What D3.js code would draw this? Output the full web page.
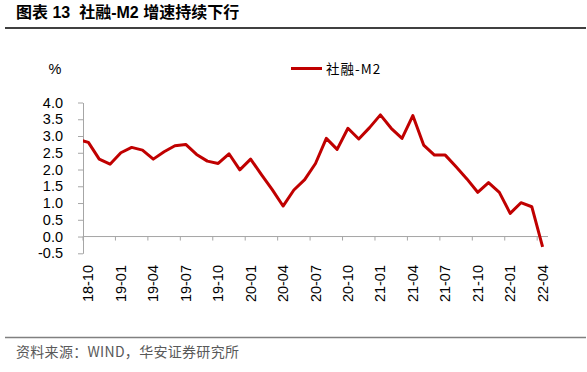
<!DOCTYPE html>
<html>
<head>
<meta charset="utf-8">
<script src="https://cdn.jsdelivr.net/npm/d3@7"></script>
<style>
  body { margin: 0; background: #fff; }
  text { font-family: "Liberation Sans", Arial, "Noto Sans CJK SC", sans-serif; white-space: pre; }
  .cjk { font-family: "Noto Sans CJK SC", sans-serif; }
</style>
</head>
<body>
<div id="chart"></div>
<script>
// months shown on the axis (18-10 .. 22-04)
var months = ["18-10","18-11","18-12",
  "19-01","19-02","19-03","19-04","19-05","19-06","19-07","19-08","19-09","19-10","19-11","19-12",
  "20-01","20-02","20-03","20-04","20-05","20-06","20-07","20-08","20-09","20-10","20-11","20-12",
  "21-01","21-02","21-03","21-04","21-05","21-06","21-07","21-08","21-09","21-10","21-11","21-12",
  "22-01","22-02","22-03","22-04"];

// 社融-M2 (%)
var spread = [2.81,2.31,2.16,
  2.50,2.66,2.58,2.31,2.53,2.71,2.75,2.45,2.25,2.18,2.47,1.99,
  2.31,1.85,1.40,0.91,1.39,1.70,2.18,2.93,2.60,3.23,2.91,3.25,
  3.63,3.23,2.93,3.61,2.73,2.43,2.43,2.08,1.72,1.32,1.61,1.32,
  0.69,1.01,0.89,-0.31];

// value of 18-09, sits left of the axis and gets clipped
var preValue = 2.9;

var yTicks = [-0.5, 0, 0.5, 1, 1.5, 2, 2.5, 3, 3.5, 4];

var width = 587, height = 372;
var plot = {left: 83, right: 548, top: 102.5, bottom: 253.3};

var svg = d3.select("#chart").append("svg")
    .attr("width", width)
    .attr("height", height);

// title + rules
svg.append("text")
    .attr("x", 16).attr("y", 18)
    .attr("font-size", 16).attr("font-weight", "bold")
    .text("图表 13  社融-M2 增速持续下行");

svg.append("line")
    .attr("x1", 5).attr("x2", 586).attr("y1", 28).attr("y2", 28)
    .attr("stroke", "#404040").attr("stroke-width", 2);

svg.append("line")
    .attr("x1", 5).attr("x2", 586).attr("y1", 337.5).attr("y2", 337.5)
    .attr("stroke", "#808080").attr("stroke-width", 1.5);

svg.append("text")
    .attr("class", "cjk")
    .attr("x", 16).attr("y", 357)
    .attr("font-size", 14).attr("fill", "#595959")
    .attr("letter-spacing", 0.3)
    .text("资料来源：WIND，华安证券研究所");

// scales: x by month index, band centred
var x = d3.scaleLinear()
    .domain([-0.5, months.length - 0.5])
    .range([plot.left, plot.right]);

var y = d3.scaleLinear()
    .domain([-0.5, 4])
    .range([plot.bottom, plot.top]);

// y axis
var yAxis = svg.append("g")
    .attr("transform", `translate(${plot.left},0)`)
    .call(d3.axisLeft(y).tickValues(yTicks)
      .tickFormat(d => d.toFixed(1))
      .tickSize(5).tickSizeOuter(0));
yAxis.select(".domain").attr("stroke", "#a6a6a6");
yAxis.selectAll(".tick line").attr("stroke", "#a6a6a6");
yAxis.selectAll(".tick text")
    .attr("x", -20)
    .attr("font-size", 14.5)
    .attr("font-family", "Liberation Sans, Arial, sans-serif")
    .attr("fill", "#000");

// x axis at zero
var xTickIdx = d3.range(0, months.length, 3);
var xAxis = svg.append("g")
    .attr("transform", `translate(0,${y(0)})`);
xAxis.append("line")
    .attr("x1", plot.left).attr("x2", plot.right)
    .attr("stroke", "#a6a6a6");
xAxis.selectAll(".tk")
    .data(xTickIdx)
    .enter()
    .append("line")
    .attr("class", "tk")
    .attr("x1", d => x(d - 0.5)).attr("x2", d => x(d - 0.5))
    .attr("y1", 0).attr("y2", 4)
    .attr("stroke", "#a6a6a6");

svg.selectAll(".xlab")
    .data(xTickIdx)
    .enter()
    .append("text")
    .attr("class", "xlab")
    .attr("transform", d => `translate(${x(d)},265) rotate(-90)`)
    .attr("text-anchor", "end")
    .attr("dy", "0.35em")
    .attr("font-size", 14.5)
    .text(d => months[d]);

// % unit
svg.append("text")
    .attr("x", 55).attr("y", 74)
    .attr("text-anchor", "middle")
    .attr("font-size", 14.5)
    .text("%");

// line, clipped to the plot area
svg.append("clipPath").attr("id", "plotClip")
    .append("rect")
    .attr("x", plot.left).attr("y", 0)
    .attr("width", plot.right - plot.left + 10).attr("height", height);

var pts = [[-1, preValue]].concat(spread.map((v, i) => [i, v]));

var line = d3.line()
    .x(d => x(d[0]))
    .y(d => y(d[1]));

svg.append("path")
    .datum(pts)
    .attr("clip-path", "url(#plotClip)")
    .attr("fill", "none")
    .attr("stroke", "#c00000")
    .attr("stroke-width", 3)
    .attr("stroke-linejoin", "round")
    .attr("d", line);

// legend
svg.append("line")
    .attr("x1", 291).attr("x2", 322).attr("y1", 68.5).attr("y2", 68.5)
    .attr("stroke", "#c00000").attr("stroke-width", 3);
svg.append("text")
    .attr("class", "cjk")
    .attr("x", 326).attr("y", 73.5)
    .attr("font-size", 13.5)
    .attr("letter-spacing", 1)
    .text("社融-M2");
</script>
</body>
</html>
